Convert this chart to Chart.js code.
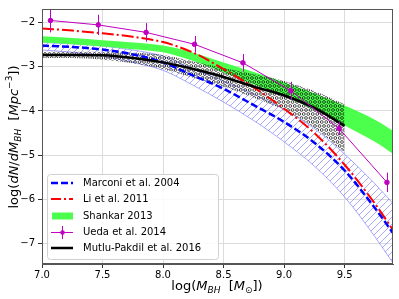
<!DOCTYPE html>
<html>
<head>
<meta charset="utf-8">
<script src="https://cdn.jsdelivr.net/npm/chart.js@4.4.0/dist/chart.umd.min.js"></script>
<style>
  html, body { margin: 0; padding: 0; background: #fff; }
  #wrap { width: 399px; height: 299px; }
</style>
</head>
<body>
<div id="wrap"><canvas id="chart" width="399" height="299"></canvas></div>
<script>
// shared x grid for the model curves and bands (log M_BH)
const bandX = [7.0, 7.25, 7.5, 7.75, 8.0, 8.25, 8.5, 8.75, 9.0, 9.25, 9.5, 9.75, 9.9];

// Marconi et al. 2004 (line + hatched range)
const marconiY     = [-2.52, -2.55, -2.61, -2.72, -2.90, -3.20, -3.50, -3.87, -4.25, -4.72, -5.35, -6.20, -6.77];
const marconiUpper = [-2.45, -2.48, -2.53, -2.62, -2.76, -3.05, -3.32, -3.62, -3.97, -4.40, -4.98, -5.65, -6.10];
const marconiLower = [-2.62, -2.67, -2.76, -2.90, -3.08, -3.42, -3.80, -4.22, -4.70, -5.25, -5.95, -6.85, -7.45];

// Li et al. 2011
const liY = [-2.13, -2.18, -2.24, -2.32, -2.44, -2.68, -3.05, -3.47, -3.95, -4.50, -5.22, -6.10, -6.70];

// Shankar 2013 band
const shankarUpper = [-2.31, -2.35, -2.40, -2.45, -2.52, -2.68, -2.90, -3.12, -3.35, -3.60, -3.88, -4.20, -4.45];
const shankarLower = [-2.45, -2.49, -2.54, -2.60, -2.67, -2.87, -3.13, -3.40, -3.67, -3.98, -4.33, -4.70, -4.97];

// Ueda et al. 2014 points with error bars
const uedaX   = [7.07, 7.465, 7.86, 8.26, 8.66, 9.055, 9.455, 9.85];
const uedaY   = [-1.95, -2.05, -2.22, -2.49, -2.91, -3.54, -4.40, -5.62];
const uedaErr = [0.27, 0.23, 0.21, 0.19, 0.20, 0.20, 0.15, 0.22];

// Mutlu-Pakdil et al. 2016 (line + circle-hatched range), stops at 9.5
const mutluX     = [7.0, 7.25, 7.5, 7.75, 8.0, 8.25, 8.5, 8.75, 9.0, 9.25, 9.5];
const mutluY     = [-2.73, -2.73, -2.74, -2.80, -2.90, -3.05, -3.23, -3.45, -3.65, -3.93, -4.34];
const mutluUpper = [-2.66, -2.66, -2.66, -2.68, -2.73, -2.88, -3.03, -3.17, -3.32, -3.55, -3.85];
const mutluLower = [-2.80, -2.80, -2.84, -2.92, -3.05, -3.25, -3.45, -3.70, -3.98, -4.38, -4.95];

const xTicks = [7.0, 7.5, 8.0, 8.5, 9.0, 9.5];
const yTicks = [-7, -6, -5, -4, -3, -2];

const legendLabels = ["Marconi et al. 2004", "Li et al. 2011", "Shankar 2013", "Ueda et al. 2014", "Mutlu-Pakdil et al. 2016"];

const FONT = "'DejaVu Sans', sans-serif";
const BLUE_HATCH = "rgba(110,110,255,0.75)";
const GREEN = "#4dff4d";
const MAGENTA = "#bf00bf";

function pts(xs, ys) {
    return xs.map((x, i) => ({ x: x, y: ys[i] }));
}

function hatchPattern() {
    const c = document.createElement("canvas");
    c.width = 7; c.height = 7;
    const g = c.getContext("2d");
    g.strokeStyle = BLUE_HATCH;
    g.lineWidth = 0.8;
    g.beginPath();
    g.moveTo(-1, 8); g.lineTo(8, -1);
    g.moveTo(-1, 1); g.lineTo(1, -1);
    g.moveTo(6, 8); g.lineTo(8, 6);
    g.stroke();
    return g.createPattern(c, "repeat");
}

function circlePattern() {
    const c = document.createElement("canvas");
    c.width = 9; c.height = 8;
    const g = c.getContext("2d");
    g.strokeStyle = "#000";
    g.lineWidth = 0.7;
    [[2.25, 2], [6.75, 2], [0, 6], [4.5, 6], [9, 6]].forEach(p => {
        g.beginPath();
        g.arc(p[0], p[1], 1.4, 0, Math.PI * 2);
        g.stroke();
    });
    return g.createPattern(c, "repeat");
}

function lineDs(data, color, width, dash, order) {
    return {
        data: data, borderColor: color, borderWidth: width, borderDash: dash || [],
        pointRadius: 0, fill: false, cubicInterpolationMode: "monotone", order: order
    };
}

const datasets = [
    // 0,1 Marconi band
    Object.assign(lineDs(pts(bandX, marconiUpper), BLUE_HATCH, 0.8, null, 10), { fill: { target: 1 }, backgroundColor: hatchPattern() }),
    lineDs(pts(bandX, marconiLower), BLUE_HATCH, 0.8, null, 10),
    // 2,3 Shankar band
    Object.assign(lineDs(pts(bandX, shankarUpper), GREEN, 0, null, 9), { fill: { target: 3 }, backgroundColor: GREEN }),
    lineDs(pts(bandX, shankarLower), GREEN, 0, null, 9),
    // 4,5 Mutlu-Pakdil band
    Object.assign(lineDs(pts(mutluX, mutluUpper), "rgba(0,0,0,0)", 0, null, 8), { fill: { target: 5 }, backgroundColor: circlePattern() }),
    lineDs(pts(mutluX, mutluLower), "rgba(0,0,0,0)", 0, null, 8),
    // 6 Li
    lineDs(pts(bandX, liY), "#ff0000", 2, [12, 3, 2, 3], 5),
    // 7 Marconi
    lineDs(pts(bandX, marconiY), "#0000ff", 2.5, [7, 3], 4),
    // 8 Mutlu-Pakdil
    lineDs(pts(mutluX, mutluY), "#000000", 2.5, null, 3),
    // 9 Ueda
    {
        data: pts(uedaX, uedaY), borderColor: MAGENTA, borderWidth: 1, tension: 0,
        pointRadius: 2.3, pointBackgroundColor: MAGENTA, pointBorderColor: MAGENTA, fill: false, order: 2
    }
];

function drawRuns(ctx, runs, cx, cy, rotate) {
    let total = 0;
    runs.forEach(r => {
        ctx.font = (r.it ? "italic " : "") + r.s + "px " + FONT;
        r.w = ctx.measureText(r.t).width;
        total += r.w;
    });
    ctx.save();
    ctx.translate(cx, cy);
    if (rotate) ctx.rotate(-Math.PI / 2);
    ctx.fillStyle = "#000";
    ctx.textBaseline = "alphabetic";
    ctx.textAlign = "left";
    let x = -total / 2;
    runs.forEach(r => {
        ctx.font = (r.it ? "italic " : "") + r.s + "px " + FONT;
        ctx.fillText(r.t, x, r.dy || 0);
        x += r.w;
    });
    ctx.restore();
}

const errorBars = {
    id: "errorBars",
    afterDatasetsDraw(chart) {
        const ctx = chart.ctx, y = chart.scales.y, a = chart.chartArea;
        const meta = chart.getDatasetMeta(9);
        ctx.save();
        ctx.beginPath();
        ctx.rect(a.left, a.top, a.right - a.left, a.bottom - a.top);
        ctx.clip();
        ctx.strokeStyle = MAGENTA;
        ctx.lineWidth = 1;
        meta.data.forEach((p, i) => {
            ctx.beginPath();
            ctx.moveTo(Math.round(p.x) + 0.5, y.getPixelForValue(uedaY[i] + uedaErr[i]));
            ctx.lineTo(Math.round(p.x) + 0.5, y.getPixelForValue(uedaY[i] - uedaErr[i]));
            ctx.stroke();
        });
        ctx.restore();
    }
};

const decorations = {
    id: "decorations",
    afterDraw(chart) {
        const ctx = chart.ctx, a = chart.chartArea;
        // frame
        ctx.save();
        ctx.strokeStyle = "#555";
        ctx.lineWidth = 1;
        ctx.strokeRect(a.left + 0.5, a.top + 0.5, a.right - a.left - 1, a.bottom - a.top - 1);

        // legend
        const lx = 47, ly = 174, lw = 171, lh = 85;
        ctx.beginPath();
        ctx.roundRect(lx + 0.5, ly + 0.5, lw, lh, 3);
        ctx.fillStyle = "rgba(255,255,255,0.85)";
        ctx.fill();
        ctx.strokeStyle = "#d0d0d0";
        ctx.stroke();

        const rows = [183, 199, 216, 232, 248];
        const x0 = 51, x1 = 73;
        ctx.lineWidth = 2.5;
        ctx.strokeStyle = "#0000ff";
        ctx.setLineDash([7, 3]);
        ctx.beginPath(); ctx.moveTo(x0, rows[0]); ctx.lineTo(x1, rows[0]); ctx.stroke();
        ctx.lineWidth = 2;
        ctx.strokeStyle = "#ff0000";
        ctx.setLineDash([10, 3, 2, 3]);
        ctx.beginPath(); ctx.moveTo(x0, rows[1]); ctx.lineTo(x1, rows[1]); ctx.stroke();
        ctx.setLineDash([]);
        ctx.fillStyle = GREEN;
        ctx.fillRect(x0 + 1, rows[2] - 3.5, x1 - x0 - 1, 7);
        ctx.strokeStyle = MAGENTA;
        ctx.lineWidth = 1;
        ctx.beginPath(); ctx.moveTo(x0, rows[3] + 0.5); ctx.lineTo(x1, rows[3] + 0.5);
        ctx.moveTo(62.5, rows[3] - 6); ctx.lineTo(62.5, rows[3] + 7); ctx.stroke();
        ctx.fillStyle = MAGENTA;
        ctx.beginPath(); ctx.arc(62.5, rows[3] + 0.5, 2.3, 0, Math.PI * 2); ctx.fill();
        ctx.strokeStyle = "#000";
        ctx.lineWidth = 2.5;
        ctx.beginPath(); ctx.moveTo(x0, rows[4]); ctx.lineTo(x1, rows[4]); ctx.stroke();

        ctx.fillStyle = "#000";
        ctx.font = "10px " + FONT;
        ctx.textBaseline = "middle";
        legendLabels.forEach((t, i) => ctx.fillText(t, 83, rows[i] + 0.5));
        ctx.restore();

        // axis titles
        drawRuns(ctx, [
            { t: "log(", s: 13 }, { t: "M", s: 13, it: true }, { t: "BH", s: 9, it: true, dy: 3 },
            { t: "  [", s: 13 }, { t: "M", s: 13, it: true }, { t: "\u2299", s: 9, dy: 3 }, { t: "])", s: 13 }
        ], 217, 290, false);
        drawRuns(ctx, [
            { t: "log(", s: 13 }, { t: "dN", s: 13, it: true }, { t: "/", s: 13 }, { t: "dM", s: 13, it: true },
            { t: "BH", s: 9, it: true, dy: 3 }, { t: "  [", s: 13 }, { t: "Mpc", s: 13, it: true },
            { t: "\u22123", s: 9, dy: -6 }, { t: "])", s: 13 }
        ], 18, 137, true);
    }
};

new Chart(document.getElementById("chart"), {
    type: "line",
    data: { datasets: datasets },
    options: {
        responsive: false,
        devicePixelRatio: 1,
        animation: false,
        layout: { padding: { top: 6, right: 6, left: 0, bottom: 0 } },
        plugins: { legend: { display: false }, tooltip: { enabled: false } },
        scales: {
            x: {
                type: "linear", min: 7.0, max: 9.9,
                afterBuildTicks: s => { s.ticks = xTicks.map(v => ({ value: v })); },
                afterFit: s => { s.height = 35; },
                grid: { color: "#dcdcdc", tickColor: "#333", tickLength: 4 },
                border: { color: "#555" },
                ticks: { color: "#000", font: { family: FONT, size: 10 }, padding: 1, maxRotation: 0,
                         callback: v => v.toFixed(1) }
            },
            y: {
                type: "linear", min: -7.47, max: -1.69,
                afterBuildTicks: s => { s.ticks = yTicks.map(v => ({ value: v })); },
                afterFit: s => { s.width = 42; },
                grid: { color: "#dcdcdc", tickColor: "#333", tickLength: 4 },
                border: { color: "#555" },
                ticks: { color: "#000", font: { family: FONT, size: 10 }, padding: 3,
                         callback: v => (v < 0 ? "\u2212" : "") + Math.abs(v) }
            }
        }
    },
    plugins: [errorBars, decorations]
});
</script>
</body>
</html>
